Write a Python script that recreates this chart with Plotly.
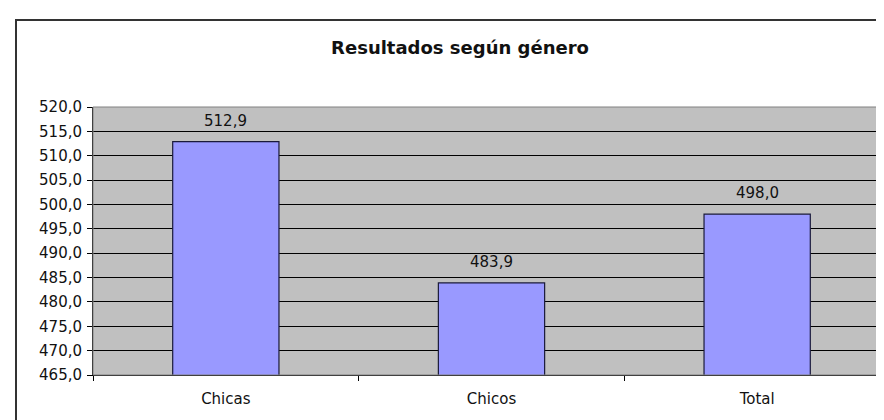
import plotly.graph_objects as go

categories = ["Chicas", "Chicos", "Total"]
values = [512.9, 483.9, 498.0]
y_ticks = [465, 470, 475, 480, 485, 490, 495, 500, 505, 510, 515, 520]
title_text = "Resultados según género"

W, H = 884, 420
L, R, T, B = 85, 2, 99, 53
pw, ph = W - L - R, H - T - B

FONT = "DejaVu Sans"

fig = go.Figure()
fig.add_trace(go.Bar(
    x=categories, y=values,
    marker=dict(color="#9999FF", line=dict(color="#1a1a3a", width=1.2)),
    width=0.4, hoverinfo="skip",
))

for c, v in zip(categories, values):
    fig.add_annotation(
        x=c, y=v, text=f"{v:.1f}".replace(".", ","), showarrow=False,
        yanchor="middle", yshift=21,
        font=dict(family=FONT, size=15, color="#111"),
    )

# outer chart frame (extends beyond image right/bottom)
fig.add_shape(type="rect", xref="paper", yref="paper",
              x0=(8 - L) / pw, x1=(W + 20 - L) / pw,
              y0=(H - B - (H + 20)) / ph, y1=(H - B - 12) / ph,
              line=dict(color="#333", width=2), layer="below")
# plot area border (gray top/right)
fig.add_shape(type="rect", xref="paper", yref="paper", x0=0, x1=1, y0=0, y1=1,
              line=dict(color="#808080", width=1), layer="above")

fig.update_layout(
    width=W, height=H,
    margin=dict(l=L, r=R, t=T, b=B),
    paper_bgcolor="white", plot_bgcolor="#C0C0C0",
    separators=",.",
    showlegend=False,
    title=dict(text=title_text, xref="container", yref="container",
               x=452 / W, y=1 - 40 / H, xanchor="center", yanchor="middle",
               font=dict(family=FONT, size=18, color="#111", weight="bold")),
    bargap=0.6,
)
fig.update_yaxes(
    range=[465, 520], tickvals=y_ticks, tickformat=".1f",
    showgrid=True, gridcolor="#000", gridwidth=1,
    showline=True, linecolor="#000", linewidth=1,
    ticks="outside", ticklen=5, tickcolor="#000",
    ticklabelstandoff=2,
    tickfont=dict(family=FONT, size=15, color="#111"),
    zeroline=False,
)
fig.update_xaxes(
    showline=True, linecolor="#000", linewidth=1,
    ticks="outside", ticklen=5, tickcolor="#000", tickson="boundaries",
    ticklabelstandoff=10,
    tickfont=dict(family=FONT, size=15, color="#111"),
    showgrid=False,
)

fig.write_html("out.html")
